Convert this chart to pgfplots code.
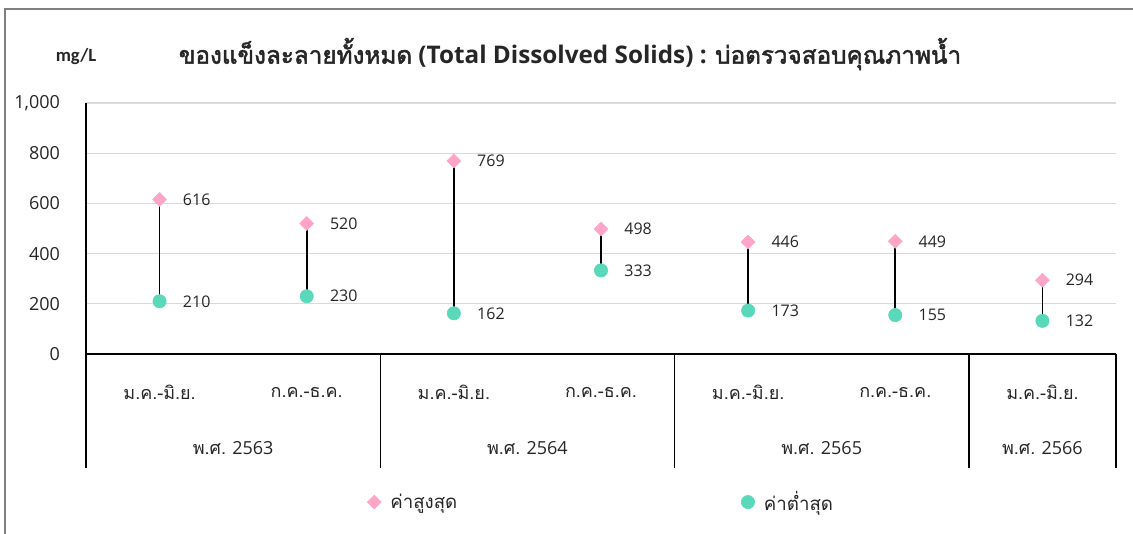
\documentclass[border=0pt]{standalone}
\usepackage{pgfplots}
\pgfplotsset{compat=1.18}
\usepackage{pgfplotstable}
\usepackage{fontspec}
\setmainfont{Open Sans}
\newfontfamily\thaif{Loma}[Script=Thai]
\newfontfamily\thaib{Loma}[Script=Thai, FakeBold=2]
\newfontfamily\calib{Carlito}
\definecolor{pinkc}{RGB}{255,166,200}
\definecolor{tealc}{RGB}{90,216,186}
\definecolor{gridc}{RGB}{217,217,217}
\definecolor{txt}{RGB}{38,38,38}
\pgfplotstableread{
x hi lo
0 616 210
1 520 230
2 769 162
3 498 333
4 446 173
5 449 155
6 294 132
}\datatable
\begin{document}
\begin{tikzpicture}
\useasboundingbox (0,0) rectangle (849.75pt,-400.5pt);
\draw[color={rgb,255:red,128;green,128;blue,128}, line width=0.9pt] (3.75pt,-400.5pt) -- (3.75pt,-6.75pt) -- (849.75pt,-6.75pt);
\node[font=\fontsize{18.2}{21}\selectfont\bfseries, text=txt] at (427.5pt,-40.5pt) {{\thaib\mdseries ของแข็งละลายทั้งหมด} (Total Dissolved Solids) : {\thaib\mdseries บ่อตรวจสอบคุณภาพน้ำ}};
\node[font=\fontsize{14}{16}\selectfont\calib\bfseries, text=txt] at (57pt,-42.75pt) {mg/L};
\begin{axis}[
  at={(64.5pt,-265.5pt)}, anchor=south west,
  scale only axis, width=772.5pt, height=188.25pt,
  xmin=-0.5, xmax=6.5, ymin=0, ymax=1000,
  ytick={0,200,400,600,800,1000},
  xtick={0,...,6},
  xticklabels={ม.ค.-มิ.ย.,ก.ค.-ธ.ค.,ม.ค.-มิ.ย.,ก.ค.-ธ.ค.,ม.ค.-มิ.ย.,ก.ค.-ธ.ค.,ม.ค.-มิ.ย.},
  axis x line*=bottom, axis y line*=left,
  axis line style={black, line width=1pt, -},
  major tick style={draw=none},
  ymajorgrids, grid style={gridc, line width=1pt},
  /pgf/number format/assume math mode=true,
  /pgf/number format/1000 sep={,},
  yticklabel style={anchor=east, xshift=-16pt, font=\fontsize{13.5}{15}\selectfont, text=txt},
  xticklabel style={anchor=center, yshift=-28.5pt, font=\fontsize{13.5}{15}\selectfont\thaif, text=txt},
  clip=false,
  legend columns=2,
  legend style={at={(0.5,-0.59)}, anchor=center, draw=none, fill=none,
    font=\fontsize{14}{16}\selectfont\thaif, text=txt,
    /tikz/every even column/.append style={column sep=210pt}},
  legend image code/.code={\draw[#1, only marks] plot coordinates {(0pt,0pt)}; \path[draw=none, fill=none] (-6pt,-5pt) rectangle (10pt,5pt);},
]
\addplot[draw=none, forget plot, error bars/.cd, y dir=minus, y explicit,
  error bar style={black, line width=1.3pt}, error mark=none]
  table[x=x, y=hi, y error expr=\thisrow{hi}-\thisrow{lo}] {\datatable};
\addplot[only marks, mark=square*, mark size=3.7pt,
  mark options={rotate=45, fill=pinkc, draw=pinkc},
  nodes near coords,
  every node near coord/.append style={anchor=west, xshift=14pt, font=\fontsize{12}{14}\selectfont, text=txt}]
  table[x=x, y=hi] {\datatable};
\addlegendentry{ค่าสูงสุด}
\addplot[only marks, mark=*, mark size=5pt,
  mark options={fill=tealc, draw=tealc},
  nodes near coords,
  every node near coord/.append style={anchor=west, xshift=14pt, font=\fontsize{12}{14}\selectfont, text=txt}]
  table[x=x, y=lo] {\datatable};
\addlegendentry{ค่าต่ำสุด}
\draw[black, line width=1pt] (axis cs:-0.5,0) -- ([yshift=-85.5pt]axis cs:-0.5,0);
\draw[black, line width=1pt] (axis cs:1.5,0) -- ([yshift=-85.5pt]axis cs:1.5,0);
\draw[black, line width=1pt] (axis cs:3.5,0) -- ([yshift=-85.5pt]axis cs:3.5,0);
\draw[black, line width=1pt] (axis cs:5.5,0) -- ([yshift=-85.5pt]axis cs:5.5,0);
\draw[black, line width=1pt] (axis cs:6.5,0) -- ([yshift=-85.5pt]axis cs:6.5,0);
\node[font=\fontsize{13.5}{15}\selectfont, text=txt] at (axis cs:0.5,0) [yshift=-70.5pt] {{\thaif พ.ศ.} 2563};
\node[font=\fontsize{13.5}{15}\selectfont, text=txt] at (axis cs:2.5,0) [yshift=-70.5pt] {{\thaif พ.ศ.} 2564};
\node[font=\fontsize{13.5}{15}\selectfont, text=txt] at (axis cs:4.5,0) [yshift=-70.5pt] {{\thaif พ.ศ.} 2565};
\node[font=\fontsize{13.5}{15}\selectfont, text=txt] at (axis cs:6,0) [yshift=-70.5pt] {{\thaif พ.ศ.} 2566};
\end{axis}
\end{tikzpicture}
\end{document}
